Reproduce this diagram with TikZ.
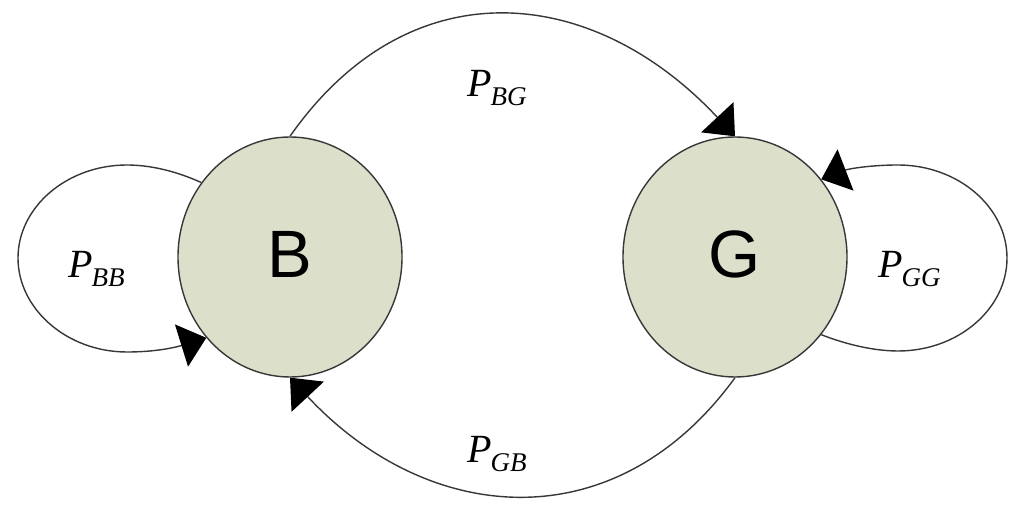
\documentclass[tikz,border=0pt]{standalone}
\usepackage{fontspec}
\setmainfont{Liberation Serif}
\newfontfamily\sansB{Liberation Sans}
\usetikzlibrary{shapes.geometric,arrows.meta}
\definecolor{statefill}{RGB}{220,224,203}
\definecolor{edgecol}{RGB}{55,55,55}
\newcommand\plab[1]{{\fontsize{40}{40}\selectfont\itshape P}\kern-1pt\raisebox{-9pt}{\fontsize{27}{27}\selectfont\itshape #1}}
\begin{document}
\begin{tikzpicture}[x=1pt,y=1pt,
  state/.style={ellipse, draw=edgecol, line width=1.4pt, fill=statefill,
    minimum width=224pt, minimum height=240pt, inner sep=0pt,
    font=\sansB\fontsize{67}{67}\selectfont},
  trans/.style={draw=edgecol, line width=1.4pt,
    -{Triangle[length=26pt,width=44pt,color=black]}},
  lab/.style={anchor=base west, inner sep=0pt}]
\useasboundingbox (0,0) rectangle (1024,516);
\node[state] (B) at (290,259) {\raisebox{5pt}{B}};
\node[state] (G) at (735,259) {\raisebox{5pt}{G}};
% transitions between states
\draw[trans] (B.north) to[out=55,in=133,looseness=1.2] (G.north);
\draw[trans] (G.south) to[out=-126,in=-47,looseness=1.17] (B.south);
% self loops
\draw[trans] (B.140) .. controls (178,344) and (152,351) .. (127,351)
  .. controls (67,351) and (18,309) .. (18,258)
  .. controls (18,207) and (67,164) .. (127,164)
  .. controls (160,164) and (180,170) .. (B.224);
\draw[trans] (G.-42) .. controls (845,172) and (873,165) .. (898,165)
  .. controls (958,165) and (1007,207) .. (1007,258)
  .. controls (1007,309) and (958,351) .. (898,351)
  .. controls (870,351) and (848,347) .. (G.42);
% labels
\node[lab] (lBB) at (68,238) {\plab{BB}};
\node[lab] (lBG) at (467,419) {\plab{BG}};
\node[lab] (lGB) at (467,53) {\plab{GB}};
\node[lab] (lGG) at (878,238) {\plab{GG}};
\end{tikzpicture}
\end{document}
